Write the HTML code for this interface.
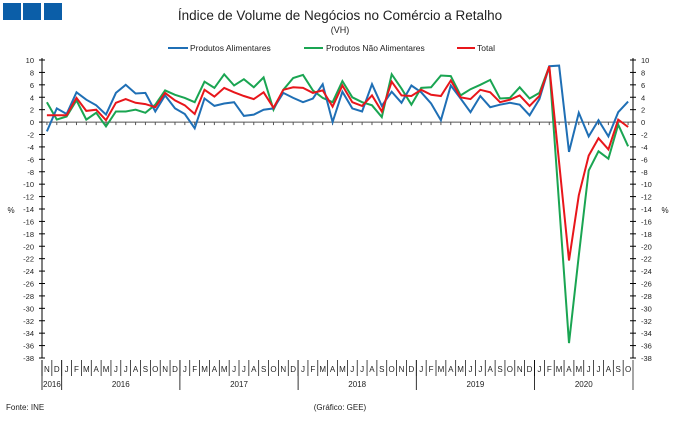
<!DOCTYPE html>
<html><head><meta charset="utf-8"><style>
body{margin:0;background:#fff;font-family:"Liberation Sans",sans-serif}
svg text{font-family:"Liberation Sans",sans-serif}
</style></head><body>
<svg id="c" width="680" height="417" viewBox="0 0 680 417" xmlns="http://www.w3.org/2000/svg">
<rect x="3" y="3" width="18" height="17" fill="#0b5ea8"/>
<rect x="23" y="3" width="18" height="17" fill="#0b5ea8"/>
<rect x="44" y="3" width="18" height="17" fill="#0b5ea8"/>
<text x="340" y="20" font-size="13.5" text-anchor="middle" fill="#222">Índice de Volume de Negócios no Comércio a Retalho</text>
<text x="340" y="33" font-size="9" text-anchor="middle" fill="#222">(VH)</text>
<g>
<line x1="168" y1="48" x2="188" y2="48" stroke="#1f6fb5" stroke-width="2"/>
<text x="190" y="51" font-size="8.5" fill="#222">Produtos Alimentares</text>
<line x1="304" y1="48" x2="323" y2="48" stroke="#1aa552" stroke-width="2"/>
<text x="326" y="51" font-size="8.5" fill="#222">Produtos Não Alimentares</text>
<line x1="457" y1="48" x2="475" y2="48" stroke="#e8161b" stroke-width="2"/>
<text x="477" y="51" font-size="8.5" fill="#222">Total</text>
</g>
<text x="11" y="213" font-size="8" fill="#222" text-anchor="middle">%</text>
<text x="665" y="213" font-size="8" fill="#222" text-anchor="middle">%</text>
<text x="6" y="410" font-size="8" fill="#222">Fonte: INE</text>
<text x="340" y="410" font-size="8" fill="#222" text-anchor="middle">(Gráfico: GEE)</text>
<g id="g"></g>
</svg>
<script>
const months=["N","D","J","F","M","A","M","J","J","A","S","O","N","D","J","F","M","A","M","J","J","A","S","O","N","D","J","F","M","A","M","J","J","A","S","O","N","D","J","F","M","A","M","J","J","A","S","O","N","D","J","F","M","A","M","J","J","A","S","O"];
const years=[["2015",0,2],["2016",2,14],["2017",14,26],["2018",26,38],["2019",38,50],["2020",50,60]];
const yTicks=[10,8,6,4,2,0,-2,-4,-6,-8,-10,-12,-14,-16,-18,-20,-22,-24,-26,-28,-30,-32,-34,-36,-38];
const alimentares=[-1.5,2.2,1.3,4.8,3.6,2.7,1.2,4.7,6.0,4.6,4.7,1.7,4.3,2.2,1.3,-1.0,3.8,2.6,3.0,3.2,1.0,1.2,2.0,2.2,4.7,3.9,3.2,3.8,6.1,0,4.9,2.2,1.7,6.1,2.6,4.9,3.1,5.9,4.8,3.0,0.3,5.9,3.8,1.6,4.2,2.4,2.8,3.1,2.8,1.1,3.7,9.0,9.1,-4.8,1.5,-2.3,0.3,-2.3,1.6,3.3];
const naoAlimentares=[3.2,0.4,0.9,3.5,0.4,1.5,-0.7,1.7,1.7,2.0,1.5,2.8,5.1,4.4,3.9,3.2,6.5,5.5,7.7,5.9,6.9,5.6,7.2,2.0,5.2,7.1,7.6,5.1,3.9,3.2,6.6,4.0,3.2,2.7,0.8,7.7,5.4,2.8,5.5,5.6,7.5,7.4,4.3,5.3,6.0,6.8,3.8,3.9,5.6,3.8,4.7,9.0,-13.2,-35.6,-21.5,-7.8,-4.7,-5.9,-0.4,-3.9];
const total=[1.1,1.1,1.1,3.9,1.8,2.0,0.3,3.1,3.7,3.1,2.9,2.4,4.7,3.5,2.7,1.3,5.2,4.1,5.5,4.8,4.2,3.7,4.8,2.3,5.2,5.6,5.5,4.7,5.1,2.5,5.9,3.2,2.6,4.3,1.7,6.5,4.3,4.2,5.2,4.4,4.2,6.7,4.0,3.7,5.2,4.8,3.2,3.6,4.3,2.6,4.2,9.0,-6.5,-22.3,-11.8,-5.4,-2.6,-4.4,0.4,-0.8];
const X0=42,X1=633,Y10=60,Ym38=358,N=months.length;
const cw=(X1-X0)/N;
const xs=i=>X0+cw*(i+0.5);
const ys=v=>Y10+(10-v)*(Ym38-Y10)/48;
const g=document.getElementById('g');
const NS="http://www.w3.org/2000/svg";
function mk(t,a){const e=document.createElementNS(NS,t);for(const k in a)e.setAttribute(k,a[k]);g.appendChild(e);return e;}
// axes
let e=mk('line',{x1:X0,y1:Y10-2,x2:X0,y2:Ym38,stroke:'#000','stroke-width':1});


e=mk('line',{x1:X1,y1:Y10-2,x2:X1,y2:Ym38,stroke:'#000','stroke-width':1});


for(const v of yTicks){
  const y=ys(v);
  mk('line',{x1:X0-3,y1:y,x2:X0+3,y2:y,stroke:'#000','stroke-width':1});
  mk('line',{x1:X1-3,y1:y,x2:X1+3,y2:y,stroke:'#000','stroke-width':1});
  e=mk('text',{x:X0-8,y:y+3,'font-size':7.5,'text-anchor':'end',fill:'#222'});
  e.textContent=v;
  
  
  e=mk('text',{x:X1+8,y:y+3,'font-size':7.5,fill:'#222'});
  e.textContent=v;
  
  
}
// zero line
e=mk('line',{x1:X0,y1:ys(0),x2:X1,y2:ys(0),stroke:'#555','stroke-width':1});


for(let i=0;i<N;i++){mk('line',{x1:xs(i),y1:ys(0),x2:xs(i),y2:ys(0)+3,stroke:'#555','stroke-width':1});}
// month labels
for(let i=0;i<N;i++){
  const x=X0+cw*i;
  mk('line',{x1:x,y1:Ym38+2,x2:x,y2:Ym38+18,stroke:'#000','stroke-width':0.7});
  e=mk('text',{x:xs(i),y:Ym38+14,'font-size':8,'text-anchor':'middle',fill:'#222'});
  e.textContent=months[i];
  
  
}
mk('line',{x1:X1,y1:Ym38+2,x2:X1,y2:Ym38+32,stroke:'#000','stroke-width':0.7});
for(const [yr,a,b] of years){
  mk('line',{x1:X0+cw*a,y1:Ym38+2,x2:X0+cw*a,y2:Ym38+32,stroke:'#000','stroke-width':0.8});
  e=mk('text',{x:b-a<3?X0+cw*a+1:X0+cw*(a+b)/2,y:Ym38+29,'font-size':8,'text-anchor':b-a<3?'start':'middle',fill:'#222'});
  e.textContent=b-a<3?'2016':yr;
  
  
}
function series(arr,col,name){
  const p=mk('polyline',{points:arr.map((v,i)=>xs(i).toFixed(1)+','+ys(v).toFixed(1)).join(' '),fill:'none',stroke:col,'stroke-width':2,'stroke-linejoin':'miter'});
  
  
}
series(naoAlimentares,'#1aa552','line-produtos-nao-alimentares');
series(alimentares,'#1f6fb5','line-produtos-alimentares');
series(total,'#e8161b','line-total');
</script>
</body></html>
